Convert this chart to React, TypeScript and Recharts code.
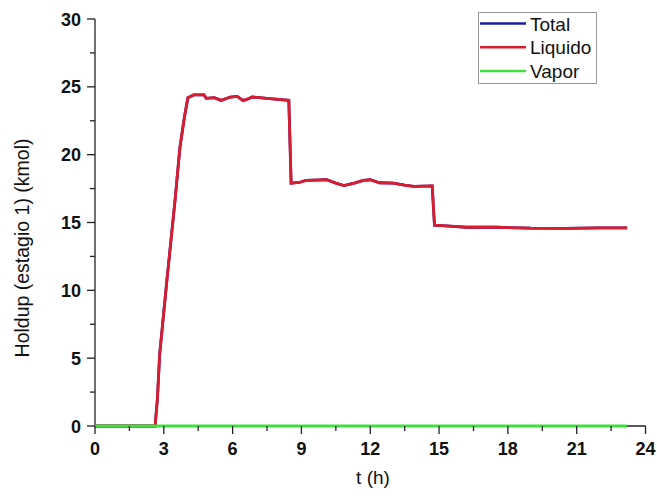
import React from 'react';
import { LineChart, Line, XAxis, YAxis, Legend } from 'recharts';

// time (h)
const tHours = [
  0, 2.62, 2.72, 2.82, 3.12, 3.49, 3.7, 3.9, 4.05, 4.3, 4.75, 4.85, 5.2, 5.5, 5.9, 6.2,
  6.45, 6.6, 6.85, 7.5, 8.45, 8.55, 8.9, 9.2, 9.55, 10.1, 10.5, 10.85, 11.3, 11.7, 12.0,
  12.4, 13.0, 13.5, 13.9, 14.7, 14.8, 15.3, 16.2, 17.5, 19.0, 20.5, 22.0, 23.2,
];

// holdup (kmol)
const liquido = [
  0, 0, 2, 5.3, 10.5, 16.65, 20.5, 22.8, 24.2, 24.4, 24.4, 24.15, 24.2, 24.0, 24.25, 24.3,
  24.0, 24.05, 24.25, 24.15, 24.0, 17.9, 17.95, 18.1, 18.13, 18.15, 17.9, 17.72, 17.9, 18.1, 18.15,
  17.93, 17.9, 17.75, 17.67, 17.7, 14.8, 14.75, 14.65, 14.65, 14.58, 14.57, 14.6, 14.6,
];

const total = [
  0, 0, 2, 5.3, 10.5, 16.65, 20.5, 22.8, 24.2, 24.4, 24.4, 24.15, 24.2, 24.0, 24.25, 24.3,
  24.0, 24.05, 24.25, 24.15, 24.0, 17.9, 17.95, 18.1, 18.13, 18.15, 17.9, 17.72, 17.9, 18.1, 18.15,
  17.93, 17.9, 17.75, 17.67, 17.7, 14.8, 14.75, 14.65, 14.65, 14.58, 14.57, 14.6, 14.6,
];

const vapor = [
  0, 0, 0, 0, 0, 0, 0, 0, 0, 0, 0, 0, 0, 0, 0, 0,
  0, 0, 0, 0, 0, 0, 0, 0, 0, 0, 0, 0, 0, 0, 0,
  0, 0, 0, 0, 0, 0, 0, 0, 0, 0, 0, 0, 0,
];

const xTicks = [0, 1.5, 3, 4.5, 6, 7.5, 9, 10.5, 12, 13.5, 15, 16.5, 18, 19.5, 21, 22.5, 24];
const yTicks = [0, 2.5, 5, 7.5, 10, 12.5, 15, 17.5, 20, 22.5, 25, 27.5, 30];

const series = [
  { key: 'Total', color: '#1c1ca8' },
  { key: 'Liquido', color: '#dc1c2c' },
  { key: 'Vapor', color: '#3ee03e' },
];

const data = tHours.map((t, i) => ({
  t,
  Total: total[i],
  Liquido: liquido[i],
  Vapor: vapor[i],
}));

const FONT = '"Liberation Sans", Arial, sans-serif';
const AXIS = '#222';

const XTick = (props: any) => {
  const { x, y, payload } = props;
  const major = payload.value % 3 === 0;
  return (
    <g>
      <line x1={x} y1={y} x2={x} y2={y + (major ? 8 : 5)} stroke={AXIS} strokeWidth={1.3} />
      {major && (
        <text x={x} y={y + 29} textAnchor="middle" fontFamily={FONT} fontWeight="bold" fontSize={18} fill="#111">
          {payload.value}
        </text>
      )}
    </g>
  );
};

const YTick = (props: any) => {
  const { x, y, payload } = props;
  const major = payload.value % 5 === 0;
  return (
    <g>
      <line x1={x - (major ? 8 : 5)} y1={y} x2={x} y2={y} stroke={AXIS} strokeWidth={1.3} />
      {major && (
        <text x={x - 14} y={y + 6.5} textAnchor="end" fontFamily={FONT} fontWeight="bold" fontSize={18} fill="#111">
          {payload.value}
        </text>
      )}
    </g>
  );
};

const LegendBox = () => (
  <svg width={120} height={73}>
    <rect x={0.5} y={0.5} width={118} height={71} fill="#fff" stroke="#999" />
    {series.map((s, i) => (
      <g key={s.key}>
        <line x1={2} x2={48} y1={11.5 + i * 23.7} y2={11.5 + i * 23.7} stroke={s.color} strokeWidth={2.5} />
        <text x={52} y={18.5 + i * 23.7} fontFamily={FONT} fontSize={19} fill="#111">
          {s.key}
        </text>
      </g>
    ))}
  </svg>
);

export default function App() {
  return (
    <div style={{ position: 'absolute', left: 0, top: 0, background: '#fff' }}>
      <LineChart width={657} height={496} data={data} margin={{ top: 19, right: 11.5, bottom: 40, left: 35 }}>
        {series.map((s) => (
          <Line
            key={s.key}
            dataKey={s.key}
            stroke={s.color}
            strokeWidth={s.key === 'Vapor' ? 3 : 2.8}
            dot={false}
            activeDot={false}
            type="linear"
            isAnimationActive={false}
            zIndex={600}
          />
        ))}
        <XAxis
          dataKey="t"
          type="number"
          domain={[0, 24]}
          ticks={xTicks}
          interval={0}
          tickSize={0}
          tickMargin={0}
          tickLine={false}
          height={30}
          tick={<XTick />}
          stroke={AXIS}
          strokeWidth={1.3}
          zIndex={100}
          label={{
            content: () => (
              <text x={373} y={484} textAnchor="middle" fontFamily={FONT} fontSize={19} fill="#111">
                t (h)
              </text>
            ),
          }}
        />
        <YAxis
          type="number"
          domain={[0, 30]}
          ticks={yTicks}
          interval={0}
          tickSize={0}
          tickMargin={0}
          tickLine={false}
          width={60}
          tick={<YTick />}
          stroke={AXIS}
          strokeWidth={1.3}
          zIndex={100}
          label={{
            content: () => (
              <text
                x={29}
                y={248}
                transform="rotate(-90, 29, 248)"
                textAnchor="middle"
                fontFamily={FONT}
                fontSize={19.5}
                fill="#111"
              >
                Holdup (estagio 1) (kmol)
              </text>
            ),
          }}
        />
        <Legend
          layout="vertical"
          align="center"
          verticalAlign="middle"
          content={() => <LegendBox />}
          wrapperStyle={{ left: 478, top: 12, width: 120, height: 73 }}
        />
      </LineChart>
    </div>
  );
}
